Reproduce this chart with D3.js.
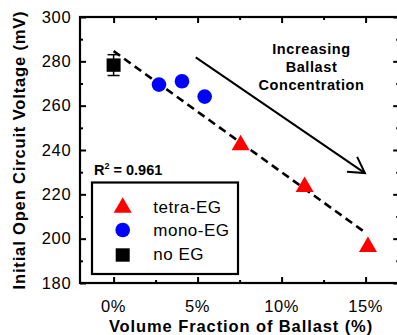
<!DOCTYPE html>
<html><head><meta charset="utf-8">
<script src="https://cdn.jsdelivr.net/npm/d3@7"></script>
<style>
html,body{margin:0;padding:0;background:#fff;}
text{font-family:"Liberation Sans",Arial,sans-serif;fill:#000;}
</style></head>
<body><svg id="c" width="397" height="335"></svg>
<script>
// ---- data ----
const noEG_x = [0];
const noEG_y = [278.3];
const noEG_err = [4.7];
const mono_x = [2.7, 4.07, 5.42];
const mono_y = [269.5, 271.0, 264.1];
const tetra_x = [7.56, 11.37, 15.14];
const tetra_y = [243.4, 224.6, 197.5];
const fit_x = [0, 15.05];
const fit_y = [284.6, 202.4];
const r2 = "0.961";
const xTicks = [0, 5, 10, 15];
const xTickLabels = ["0%", "5%", "10%", "15%"];
const xMinor = [2.5, 7.5, 12.5];
const yTicks = [180, 200, 220, 240, 260, 280, 300];
const yMinor = [190, 210, 230, 250, 270, 290];
const arrowFrom = [4.89, 281.8];
const arrowTo = [14.96, 229.6];
const legendLabels = ["tetra-EG", "mono-EG", "no EG"];
const annotation = ["Increasing", "Ballast", "Concentration"];

const svg = d3.select("#c");
const L = 80, R = 399.2, T = 17, B = 283;
const x = d3.scaleLinear().domain([-2, 17]).range([L, R]);
const y = d3.scaleLinear().domain([180, 300]).range([B, T]);

// axes (inward ticks)
function styleAxis(g){ g.select(".domain").remove(); g.selectAll("line").attr("stroke","#000").attr("stroke-width",2); g.selectAll("text").remove(); }
svg.append("g").attr("transform",`translate(${L},0)`).call(d3.axisLeft(y).tickValues(yTicks).tickSize(-6)).call(styleAxis);
svg.append("g").attr("transform",`translate(${L},0)`).call(d3.axisLeft(y).tickValues(yMinor).tickSize(-3)).call(styleAxis);
svg.append("g").attr("transform",`translate(${R},0)`).call(d3.axisRight(y).tickValues(yTicks).tickSize(-6)).call(styleAxis);
svg.append("g").attr("transform",`translate(${R},0)`).call(d3.axisRight(y).tickValues(yMinor).tickSize(-3)).call(styleAxis);
svg.append("g").attr("transform",`translate(0,${T})`).call(d3.axisTop(x).tickValues(xTicks).tickSize(-6)).call(styleAxis);
svg.append("g").attr("transform",`translate(0,${T})`).call(d3.axisTop(x).tickValues(xMinor).tickSize(-3)).call(styleAxis);
svg.append("g").attr("transform",`translate(0,${B})`).call(d3.axisBottom(x).tickValues(xTicks).tickSize(-6)).call(styleAxis);
svg.append("g").attr("transform",`translate(0,${B})`).call(d3.axisBottom(x).tickValues(xMinor).tickSize(-3)).call(styleAxis);
svg.append("rect").attr("x",L).attr("y",T).attr("width",R-L).attr("height",B-T)
  .attr("fill","none").attr("stroke","#000").attr("stroke-width",2.2);

// tick labels
svg.append("g").selectAll("text").data(yTicks).join("text")
  .attr("x",71.3).attr("y",d=>y(d)).attr("dy","0.35em").attr("text-anchor","end")
  .attr("font-size","16.5px").attr("letter-spacing","0.7px").text(d=>d);
svg.append("g").selectAll("text").data(xTicks).join("text")
  .attr("x",d=>x(d)).attr("y",311.7).attr("text-anchor","middle")
  .attr("font-size","16.5px").attr("letter-spacing","0.6px").text((d,i)=>xTickLabels[i]);

// axis titles
svg.append("text").attr("x",241).attr("y",332).attr("text-anchor","middle")
  .attr("font-size","16.5px").attr("font-weight","bold").attr("letter-spacing","0.9px")
  .text("Volume Fraction of Ballast (%)");
svg.append("text").attr("transform","translate(25,150) rotate(-90)").attr("text-anchor","middle")
  .attr("font-size","16.5px").attr("font-weight","bold").attr("letter-spacing","0.85px")
  .text("Initial Open Circuit Voltage (mV)");

// regression line
svg.append("line").attr("x1",x(fit_x[0])).attr("y1",y(fit_y[0])).attr("x2",x(fit_x[1])).attr("y2",y(fit_y[1]))
  .attr("stroke","#000").attr("stroke-width",2.6).attr("stroke-dasharray","8,5");

// arrow
const ax1=x(arrowFrom[0]), ay1=y(arrowFrom[1]), ax2=x(arrowTo[0]), ay2=y(arrowTo[1]);
svg.append("line").attr("x1",ax1).attr("y1",ay1).attr("x2",ax2).attr("y2",ay2)
  .attr("stroke","#000").attr("stroke-width",2);
const ang = Math.atan2(ay2-ay1, ax2-ax1), hl = 18, ha = Math.PI/6;
svg.append("path").attr("d",`M${ax2-hl*Math.cos(ang-ha)},${ay2-hl*Math.sin(ang-ha)}L${ax2},${ay2}L${ax2-hl*Math.cos(ang+ha)},${ay2-hl*Math.sin(ang+ha)}`)
  .attr("fill","none").attr("stroke","#000").attr("stroke-width",2).attr("stroke-linejoin","miter");

// annotation text
svg.append("g").selectAll("text").data(annotation).join("text")
  .attr("x",311.5).attr("y",(d,i)=>53.5+i*18).attr("text-anchor","middle")
  .attr("font-size","14.5px").attr("font-weight","bold").attr("letter-spacing","0.6px").text(d=>d);

// R^2
const rt = svg.append("text").attr("x",94).attr("y",175).attr("font-size","14.5px").attr("font-weight","bold");
rt.append("tspan").text("R");
rt.append("tspan").attr("font-size","9px").attr("dy","-6").text("2");
rt.append("tspan").attr("dy","6").text(" = " + r2);

// markers
const tri = (cx,cy,w,h)=>`M${cx},${cy-h/2}L${cx+w/2},${cy+h/2}L${cx-w/2},${cy+h/2}Z`;
const eb = svg.append("g").attr("stroke","#000").attr("stroke-width",1.5);
noEG_x.forEach((v,i)=>{
  const cx=x(v), yt=y(noEG_y[i]+noEG_err[i]), yb=y(noEG_y[i]-noEG_err[i]);
  eb.append("line").attr("x1",cx).attr("x2",cx).attr("y1",yt).attr("y2",yb);
  eb.append("line").attr("x1",cx-6).attr("x2",cx+6).attr("y1",yt).attr("y2",yt);
  eb.append("line").attr("x1",cx-6).attr("x2",cx+6).attr("y1",yb).attr("y2",yb);
});
svg.append("g").selectAll("rect").data(noEG_x).join("rect")
  .attr("x",d=>x(d)-7).attr("y",(d,i)=>y(noEG_y[i])-6.7).attr("width",14).attr("height",13.4).attr("fill","#000");
svg.append("g").selectAll("circle").data(mono_x).join("circle")
  .attr("cx",d=>x(d)).attr("cy",(d,i)=>y(mono_y[i])).attr("r",7.3).attr("fill","#0000ff");
svg.append("g").selectAll("path").data(tetra_x).join("path")
  .attr("d",(d,i)=>tri(x(d),y(tetra_y[i]),18,15.5)).attr("fill","#ff0000");

// legend
svg.append("rect").attr("x",92).attr("y",182.5).attr("width",146).attr("height",91.5)
  .attr("fill","#fff").attr("stroke","#000").attr("stroke-width",2.2);
svg.append("path").attr("d",tri(122.7,205,18,15.5)).attr("fill","#ff0000");
svg.append("circle").attr("cx",122.7).attr("cy",230).attr("r",7.3).attr("fill","#0000ff");
svg.append("rect").attr("x",115.7).attr("y",248.3).attr("width",14).attr("height",13.4).attr("fill","#000");
svg.append("g").selectAll("text").data(legendLabels).join("text")
  .attr("x",153.3).attr("y",(d,i)=>212.7+i*23.7).attr("font-size","17px").attr("letter-spacing","0.5px").text(d=>d);
</script></body></html>
